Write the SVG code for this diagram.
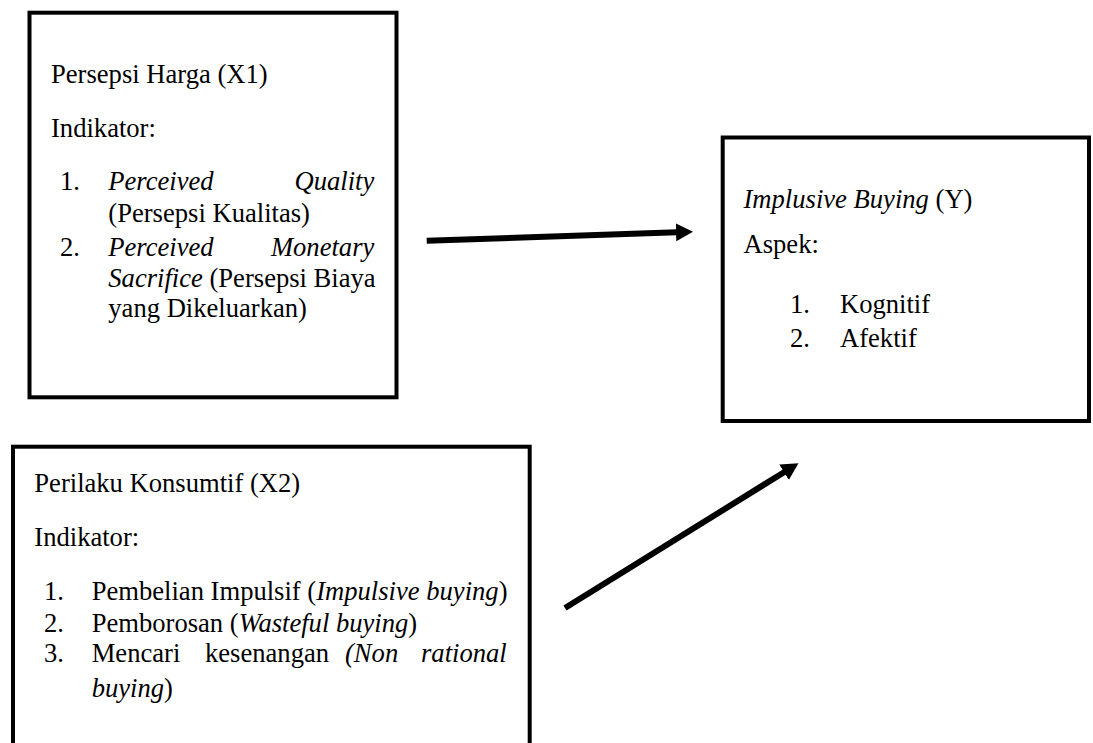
<svg xmlns="http://www.w3.org/2000/svg" width="1093" height="743" viewBox="0 0 1093 743">
  <style>
    .box { fill: #ffffff; stroke: #000000; stroke-width: 4; }
    .t { font-family: "Liberation Serif", "Times New Roman", serif; font-size: 26.6px; fill: #000000; }
    .i { font-style: italic; }
    .conn { stroke: #000000; stroke-width: 6; fill: none; }
  </style>
  <defs>
    <marker id="ah" markerUnits="userSpaceOnUse" markerWidth="20" markerHeight="20" refX="1" refY="9" orient="auto">
      <path d="M0,0 L17,9 L0,18 Z" fill="#000000"/>
    </marker>
  </defs>
  <rect width="1093" height="743" fill="#ffffff"/>

  <g id="node-x1">
    <rect class="box" x="29.5" y="12.7" width="367" height="384.6"/>
    <text class="t" x="51" y="83">Persepsi Harga (X1)</text>
    <text class="t" x="51" y="137">Indikator:</text>
    <text class="t" x="60" y="190">1.</text>
    <text class="t i" x="108.3" y="190">Perceived</text>
    <text class="t i" x="374.3" y="190" text-anchor="end">Quality</text>
    <text class="t" x="108.3" y="221.7">(Persepsi Kualitas)</text>
    <text class="t" x="60" y="256">2.</text>
    <text class="t i" x="108.3" y="256">Perceived</text>
    <text class="t i" x="374.3" y="256" text-anchor="end">Monetary</text>
    <text class="t" x="108.3" y="286.7"><tspan class="i">Sacrifice</tspan> (Persepsi Biaya</text>
    <text class="t" x="108.3" y="316.7">yang Dikeluarkan)</text>
  </g>

  <g id="node-y">
    <rect class="box" x="722.7" y="137.5" width="366.3" height="283.5"/>
    <text class="t" x="743.5" y="207.5"><tspan class="i">Implusive Buying</tspan> (Y)</text>
    <text class="t" x="743.5" y="252.7">Aspek:</text>
    <text class="t" x="790" y="313.3">1.</text>
    <text class="t" x="840" y="313.3">Kognitif</text>
    <text class="t" x="790" y="346.7">2.</text>
    <text class="t" x="840" y="346.7">Afektif</text>
  </g>

  <g id="node-x2">
    <rect class="box" x="13" y="446.7" width="516.7" height="330"/>
    <text class="t" x="34.3" y="491.7">Perilaku Konsumtif (X2)</text>
    <text class="t" x="34.3" y="546">Indikator:</text>
    <text class="t" x="44" y="600">1.</text>
    <text class="t" x="91.7" y="600">Pembelian Impulsif (<tspan class="i">Impulsive buying</tspan>)</text>
    <text class="t" x="44" y="631.7">2.</text>
    <text class="t" x="91.7" y="631.7">Pemborosan (<tspan class="i">Wasteful buying</tspan>)</text>
    <text class="t" x="44" y="661.7">3.</text>
    <text class="t" x="91.7" y="661.7">Mencari</text>
    <text class="t" x="205" y="661.7">kesenangan</text>
    <text class="t i" x="345" y="661.7">(Non</text>
    <text class="t i" x="506.7" y="661.7" text-anchor="end">rational</text>
    <text class="t" x="91.7" y="696.7"><tspan class="i">buying</tspan>)</text>
  </g>

  <g id="connectors">
    <line class="conn" x1="426.7" y1="240.7" x2="677" y2="232.3" marker-end="url(#ah)"/>
    <line class="conn" x1="565" y1="608" x2="784.9" y2="471.7" marker-end="url(#ah)"/>
  </g>
</svg>
